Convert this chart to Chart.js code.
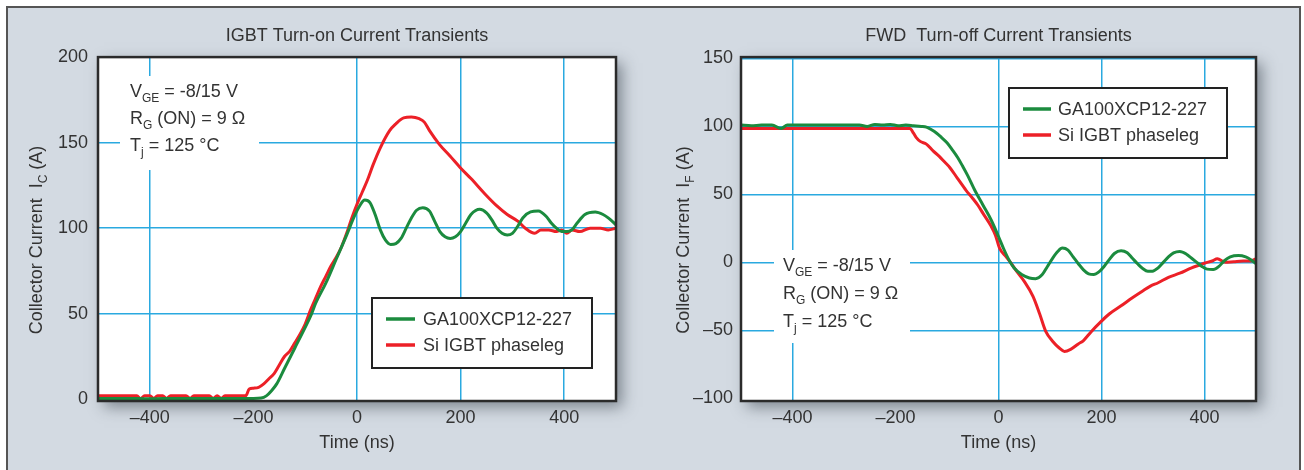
<!DOCTYPE html>
<html>
<head>
<meta charset="utf-8">
<script src="https://cdn.jsdelivr.net/npm/chart.js@4.4.1/dist/chart.umd.min.js"></script>
<style>
body{margin:0;background:#fff;overflow:hidden;width:1304px;height:470px;position:relative}
#frame{position:absolute;left:6px;top:6px;width:1291px;height:470px;border:2px solid #555;border-bottom:none;background:#d3dae2}
canvas{position:absolute;top:0}
#onChart{left:0}
#offChart{left:652px}
</style>
</head>
<body>
<div id="frame"></div>
<canvas id="onChart" width="652" height="470"></canvas>
<canvas id="offChart" width="652" height="470"></canvas>
<script>
var FONT = '"Liberation Sans", Arial, sans-serif'
var TXT = '#333'
var GRID = '#2aa9e0'
var GREEN = '#1b8b3e'
var RED = '#ec2027'

// data
var seriesNames = ['GA100XCP12-227', 'Si IGBT phaseleg']
var xTicks = [-400, -200, 0, 200, 400]
var onYTicks = [0, 50, 100, 150, 200]
var offYTicks = [-100, -50, 0, 50, 100, 150]

// IGBT turn-on, SiC (green)
var onTimeSiC = [-500,-450,-400,-350,-300,-250,-200,-185,-175,-165,-155,-140,-120,-100,-89,-80,-60,-40,-20,-5,5,15,25,35,45,55,65,75,85,95,105,115,127,140,150,160,170,180,190,200,210,220,237,250,260,270,280,290,300,310,320,335,350,365,375,385,395,405,415,425,440,460,475,485,500]
var onCurSiC = [0.5,0.5,0.3,0.5,0.5,0.5,0.5,0.7,2,5,9,18,30,42,49,56,68,82,96,107,113,116.5,115,108,99,93,90.5,91,94,100,106,110.5,112,110,104,98,95,94,95,98,103,108,111,109,105,100,97,96,97,101,106,109.5,110,107,103,100,98,98,99,103,108,109.5,108,106,102]
// IGBT turn-on, Si (red)
var onTimeSi = [-500,-470,-440,-425,-418,-410,-400,-392,-385,-375,-368,-360,-345,-330,-322,-315,-300,-285,-278,-270,-262,-255,-240,-215,-208,-200,-190,-180,-170,-160,-150,-140,-130,-120,-110,-100,-90,-80,-70,-60,-50,-40,-30,-20,-10,0,10,20,31,45,63,75,90,105,120,130,140,159,180,199,220,247,270,290,311,325,343,355,370,385,395,405,415,430,450,470,485,500]
var onCurSi = [2,2,2,2,0.3,2,2,0.5,2,2,0.5,2,2,2,0.5,2,2,2,0.5,2,0.5,2,2,2,6,6.5,7,9,12,15,20,25,28,33,38,44,52,59,66,72,78,83,89,97,106,114,121,128,137,147,157,161,164.5,165,164,162,157,149,142,135.5,129,120,113,108,104,100,97,99,99,98,99,97,99,98,100,100,99,100]

// FWD turn-off, SiC (green)
var offTimeSiC = [-500,-480,-460,-440,-422,-410,-380,-350,-320,-300,-270,-255,-240,-225,-210,-195,-180,-165,-150,-140,-130,-120,-111,-100,-90,-79,-70,-60,-46,-30,-14,0,10,20,30,45,60,72,85,95,105,115,124,135,145,155,165,175,185,195,205,215,225,238,250,260,270,280,290,299,310,320,330,340,352,365,375,385,395,405,417,428,438,450,466,480,490,500]
var offCurSiC = [101,100.5,101,101,98.5,101,101,101,101,101,101,100,101.5,101,101.5,100.5,101,100.5,100,99.5,97.5,95,92,88,83,77,71,64,53,42,31,19,10,2,-4,-9,-11.5,-12,-9,-3,3,8,10.5,9,4,-1,-5.5,-8.5,-9,-7,-3,2,6.5,8.5,7,3,-1,-4.5,-6.5,-6.5,-4,0,4,7,8,6,3,0,-3,-5,-5.3,-3,1,4,5,4,2,-1]
// FWD turn-off, Si (red)
var offTimeSi = [-500,-400,-300,-200,-180,-172,-165,-160,-152,-140,-127,-115,-105,-95,-80,-63,-50,-40,-30,-15,-6,2,15,25,35,50,67,80,92,105,118,128,140,155,165,180,198,215,238,260,280,295,310,330,352,375,390,401,415,425,440,457,475,490,500]
var offCurSi = [98.5,98.5,98.5,98.5,98.5,98.5,95,92,89,87,82,78,74,70,62,53,47,42,36,27,20,10.5,4,-1,-6.5,-14,-25,-38,-51,-58,-63,-65.5,-64,-60,-57.5,-51,-44,-38,-32,-26,-21,-17.5,-15,-11,-8,-4,-2,-0.5,1,2.7,0,0.5,1,1,2.7]

function pts(xs, ys) {
    return xs.map(function (x, i) { return {x: x, y: ys[i]} })
}

function fmt(v) {
    return v < 0 ? '\u2013' + Math.abs(v) : String(v)
}

// text with subscripts: parts = [[text, isSub], ...]
function richWidth(ctx, parts, size) {
    var w = 0
    parts.forEach(function (p) {
        ctx.font = (p[1] ? Math.round(size * 0.68) : size) + 'px ' + FONT
        w += ctx.measureText(p[0]).width
    })
    return w
}
function drawRich(ctx, x, y, parts, size) {
    var cx = x
    parts.forEach(function (p) {
        ctx.font = (p[1] ? Math.round(size * 0.68) : size) + 'px ' + FONT
        ctx.fillText(p[0], cx, p[1] ? y + size * 0.28 : y)
        cx += ctx.measureText(p[0]).width
    })
}

var decor = {
    id: 'decor',
    beforeDraw: function (chart, args, o) {
        var ctx = chart.ctx, a = chart.chartArea
        ctx.save()
        ctx.shadowColor = 'rgba(40,50,60,0.5)'
        ctx.shadowBlur = 14
        ctx.shadowOffsetX = 6
        ctx.shadowOffsetY = 6
        ctx.fillStyle = '#fff'
        ctx.fillRect(a.left, a.top, a.right - a.left, a.bottom - a.top)
        ctx.restore()
        // y axis title with subscript
        ctx.save()
        ctx.fillStyle = TXT
        ctx.textBaseline = 'alphabetic'
        ctx.translate(o.ylabel.x, o.ylabel.y)
        ctx.rotate(-Math.PI / 2)
        var w = richWidth(ctx, o.ylabel.parts, 18)
        drawRich(ctx, -w / 2, 6.5, o.ylabel.parts, 18)
        ctx.restore()
    },
    beforeDatasetsDraw: function (chart, args, o) {
        var ctx = chart.ctx, n = o.notes
        ctx.save()
        ctx.fillStyle = '#fff'
        ctx.fillRect(n.box[0], n.box[1], n.box[2] - n.box[0], n.box[3] - n.box[1])
        ctx.fillStyle = TXT
        ctx.textBaseline = 'alphabetic'
        n.lines.forEach(function (parts, i) {
            drawRich(ctx, n.x, n.ys[i], parts, 18)
        })
        ctx.restore()
    },
    afterDatasetsDraw: function (chart, args, o) {
        var ctx = chart.ctx, a = chart.chartArea, L = o.legend
        ctx.save()
        ctx.strokeStyle = '#2b2b2b'
        ctx.lineWidth = 2.5
        ctx.strokeRect(a.left, a.top, a.right - a.left, a.bottom - a.top)
        // legend
        ctx.fillStyle = '#fff'
        ctx.fillRect(L.box[0], L.box[1], L.box[2] - L.box[0], L.box[3] - L.box[1])
        ctx.lineWidth = 2
        ctx.strokeStyle = '#222'
        ctx.strokeRect(L.box[0], L.box[1], L.box[2] - L.box[0], L.box[3] - L.box[1])
        chart.data.datasets.forEach(function (ds, i) {
            var y = L.ys[i]
            ctx.strokeStyle = ds.borderColor
            ctx.lineWidth = 3.5
            ctx.beginPath()
            ctx.moveTo(L.x0, y)
            ctx.lineTo(L.x1, y)
            ctx.stroke()
            ctx.fillStyle = TXT
            ctx.font = '18px ' + FONT
            ctx.textBaseline = 'middle'
            ctx.fillText(ds.label, L.tx, y + 1)
        })
        ctx.restore()
    }
}

function makeChart(id, cfg) {
    return new Chart(document.getElementById(id), {
        type: 'line',
        data: {
            datasets: [
                {label: seriesNames[0], data: cfg.green, borderColor: GREEN, borderWidth: 3, pointRadius: 0, cubicInterpolationMode: 'monotone'},
                {label: seriesNames[1], data: cfg.red, borderColor: RED, borderWidth: 3, pointRadius: 0, cubicInterpolationMode: 'monotone'}
            ]
        },
        plugins: [decor],
        options: {
            responsive: false,
            animation: false,
            events: [],
            layout: {padding: {left: 0, right: cfg.right, top: 0, bottom: 0}},
            scales: {
                x: {
                    type: 'linear', min: -500, max: 500,
                    afterBuildTicks: function (s) { s.ticks = xTicks.map(function (v) { return {value: v} }) },
                    afterFit: function (s) { s.height = 69 },
                    grid: {
                        color: function (c) { return c.tick && c.tick.value === -200 ? 'rgba(0,0,0,0)' : GRID },
                        lineWidth: 1.5, drawTicks: false
                    },
                    border: {display: false},
                    ticks: {padding: 6, font: {family: FONT, size: 18}, color: TXT, autoSkip: false, maxRotation: 0, callback: fmt},
                    title: {display: true, text: 'Time (ns)', color: TXT, font: {family: FONT, size: 18}, padding: {top: 0, bottom: 16}}
                },
                y: {
                    min: cfg.ymin, max: cfg.ymax,
                    afterBuildTicks: function (s) { s.ticks = cfg.yTicks.map(function (v) { return {value: v} }) },
                    afterFit: function (s) { s.width = cfg.left },
                    grid: {
                        color: function (c) { return c.tick && c.tick.value === cfg.yTicks[0] ? 'rgba(0,0,0,0)' : GRID },
                        lineWidth: 1.5, drawTicks: false
                    },
                    border: {display: false},
                    ticks: {padding: cfg.tickPad, font: {family: FONT, size: 18}, color: TXT, autoSkip: false, callback: fmt}
                }
            },
            plugins: {
                legend: {display: false},
                tooltip: {enabled: false},
                title: {
                    display: true, fullSize: false, text: cfg.title, color: TXT,
                    font: {family: FONT, size: 18, weight: 'normal'},
                    padding: {top: 25.5, bottom: 10}
                },
                decor: {
                    ylabel: cfg.ylabel,
                    notes: cfg.notes,
                    legend: cfg.legend
                }
            }
        }
    })
}

var noteLines = [
    [['V', 0], ['GE', 1], [' = -8/15 V', 0]],
    [['R', 0], ['G', 1], [' (ON) = 9 \u03A9', 0]],
    [['T', 0], ['j', 1], [' = 125 \u00B0C', 0]]
]

makeChart('onChart', {
    title: 'IGBT Turn-on Current Transients',
    green: pts(onTimeSiC, onCurSiC),
    red: pts(onTimeSi, onCurSi),
    left: 98, right: 36, ymin: -1, ymax: 200, yTicks: onYTicks, tickPad: 10,
    ylabel: {x: 35, y: 240, parts: [['Collector Current  I', 0], ['C', 1], [' (A)', 0]]},
    notes: {box: [120, 76, 259, 170], x: 130, ys: [97, 124, 151], lines: noteLines},
    legend: {box: [372, 298, 592, 368], x0: 386, x1: 415, tx: 423, ys: [319, 345]}
})

makeChart('offChart', {
    title: 'FWD  Turn-off Current Transients',
    green: pts(offTimeSiC, offCurSiC),
    red: pts(offTimeSi, offCurSi),
    left: 89, right: 48, ymin: -102, ymax: 151, yTicks: offYTicks, tickPad: 8,
    ylabel: {x: 30, y: 240, parts: [['Collector Current  I', 0], ['F', 1], [' (A)', 0]]},
    notes: {box: [122, 250, 258, 343], x: 131, ys: [271, 299, 327], lines: noteLines},
    legend: {box: [357, 88, 575, 158], x0: 371, x1: 399, tx: 406, ys: [109, 135]}
})
</script>
</body>
</html>
